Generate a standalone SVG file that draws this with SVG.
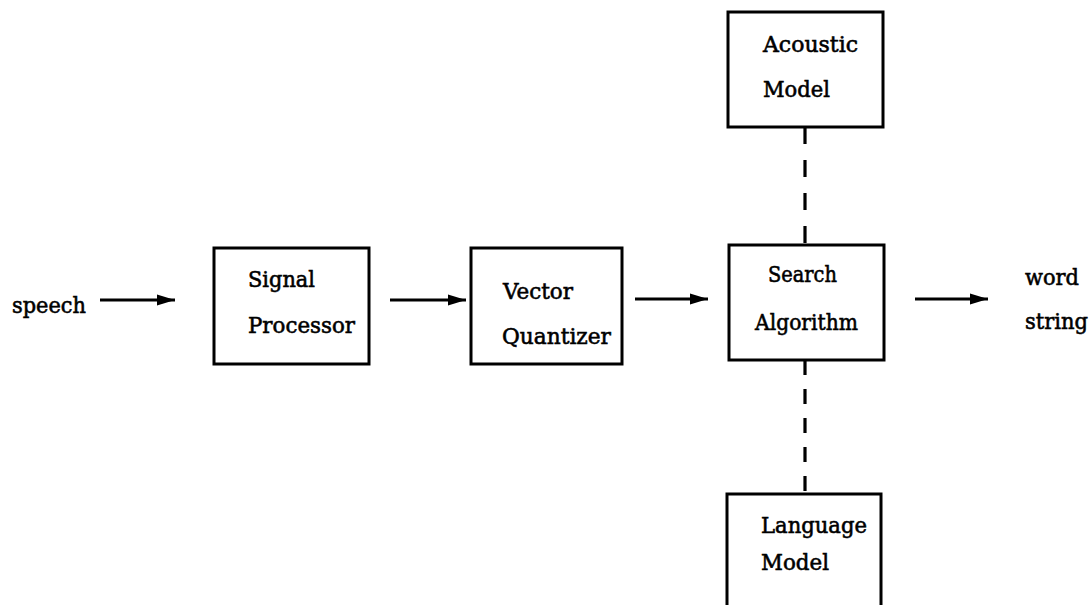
<svg xmlns="http://www.w3.org/2000/svg" width="1092" height="605" viewBox="0 0 1092 605">
  <style>
    .box { fill: none; stroke: #000; stroke-width: 3; }
    .lbl { font-family: 'DejaVu Serif', 'Liberation Serif', serif; font-size: 23px; fill: #000; stroke: #000; stroke-width: 0.6; }
    .flow { stroke: #000; stroke-width: 3.2; fill: none; marker-end: url(#head); }
    .dash { stroke: #000; stroke-width: 3.2; fill: none; }
  </style>
  <defs>
    <marker id="head" markerUnits="userSpaceOnUse" markerWidth="20" markerHeight="12" refX="18" refY="6" orient="auto">
      <path d="M0,0.5 L18,6 L0,11.5 Z" fill="#000"/>
    </marker>
  </defs>
  <rect width="1092" height="605" fill="#fff"/>

  <!-- connectors -->
  <g id="connectors">
    <line class="flow" x1="100" y1="300" x2="175" y2="300"/>
    <line class="flow" x1="390" y1="300" x2="466" y2="300"/>
    <line class="flow" x1="635" y1="299" x2="708" y2="299"/>
    <line class="flow" x1="915" y1="299" x2="988" y2="299"/>
    <line class="dash" x1="805" y1="127" x2="805" y2="245" stroke-dasharray="17 16"/>
    <line class="dash" x1="805" y1="360" x2="805" y2="494" stroke-dasharray="15 14"/>
  </g>

  <!-- input / output labels -->
  <g id="speech">
    <text class="lbl" x="12" y="313" textLength="74" lengthAdjust="spacingAndGlyphs">speech</text>
  </g>
  <g id="word-string">
    <text class="lbl" x="1025" y="285" textLength="54" lengthAdjust="spacingAndGlyphs">word</text>
    <text class="lbl" x="1025" y="329" textLength="63" lengthAdjust="spacingAndGlyphs">string</text>
  </g>

  <!-- processing blocks -->
  <g id="signal-processor">
    <rect class="box" x="214" y="248" width="155" height="116"/>
    <text class="lbl" x="248" y="287" textLength="67" lengthAdjust="spacingAndGlyphs">Signal</text>
    <text class="lbl" x="248" y="333" textLength="107" lengthAdjust="spacingAndGlyphs">Processor</text>
  </g>
  <g id="vector-quantizer">
    <rect class="box" x="471" y="248" width="151" height="116"/>
    <text class="lbl" x="503" y="299" textLength="70" lengthAdjust="spacingAndGlyphs">Vector</text>
    <text class="lbl" x="502" y="344" textLength="109" lengthAdjust="spacingAndGlyphs">Quantizer</text>
  </g>
  <g id="search-algorithm">
    <rect class="box" x="729" y="245" width="155" height="115"/>
    <text class="lbl" x="768" y="282" textLength="69" lengthAdjust="spacingAndGlyphs">Search</text>
    <text class="lbl" x="755" y="330" textLength="103" lengthAdjust="spacingAndGlyphs">Algorithm</text>
  </g>
  <g id="acoustic-model">
    <rect class="box" x="728" y="12" width="155" height="115"/>
    <text class="lbl" x="763" y="52" textLength="95" lengthAdjust="spacingAndGlyphs">Acoustic</text>
    <text class="lbl" x="763" y="97" textLength="67" lengthAdjust="spacingAndGlyphs">Model</text>
  </g>
  <g id="language-model">
    <rect class="box" x="727" y="494" width="154" height="130"/>
    <text class="lbl" x="761" y="533" textLength="106" lengthAdjust="spacingAndGlyphs">Language</text>
    <text class="lbl" x="761" y="570" textLength="68" lengthAdjust="spacingAndGlyphs">Model</text>
  </g>
</svg>
